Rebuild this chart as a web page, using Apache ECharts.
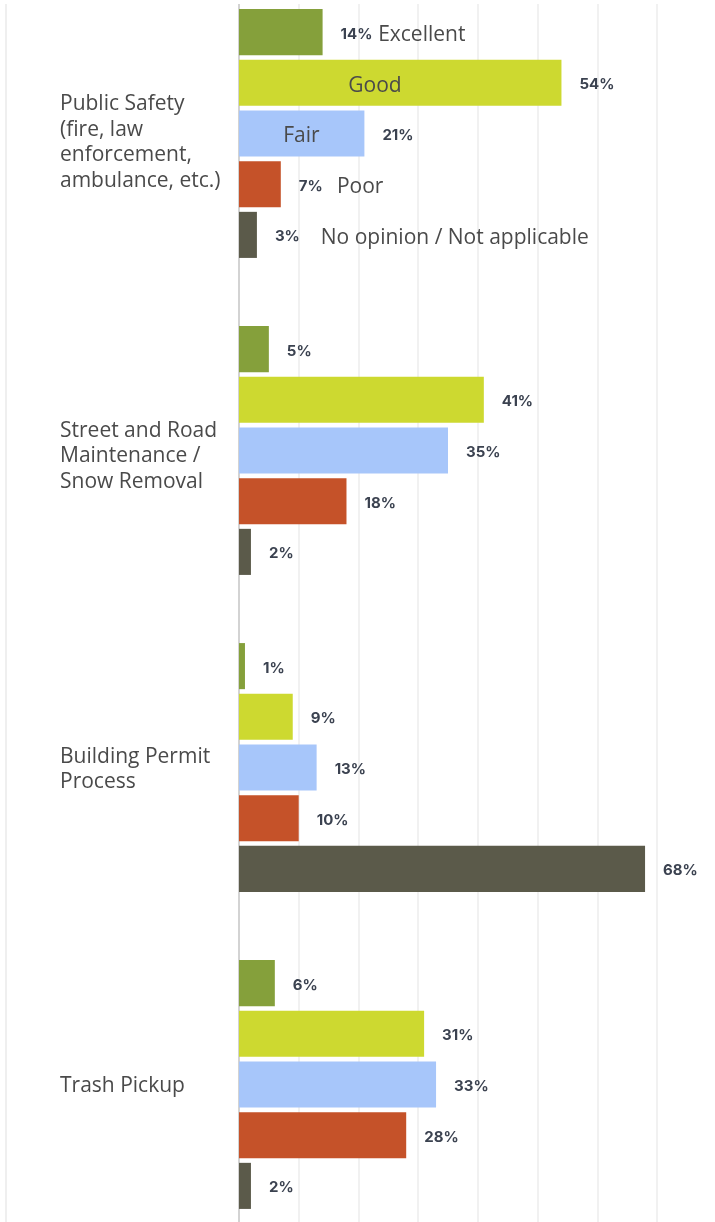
<!DOCTYPE html>
<html>
<head>
<meta charset="utf-8">
<script src="https://cdn.jsdelivr.net/npm/echarts@6/dist/echarts.min.js"></script>
<style>
html,body{margin:0;padding:0;background:#fff;overflow:hidden;width:715px;height:1222px;}
#chart{width:715px;height:1268px;position:absolute;left:0;top:-25px;}
</style>
</head>
<body>
<div id="chart"></div>
<script>
const categories = [
  'Public Safety\n(fire, law\nenforcement,\nambulance, etc.)',
  'Street and Road\nMaintenance /\nSnow Removal',
  'Building Permit\nProcess',
  'Trash Pickup'
];
const seriesNames = ['Excellent', 'Good', 'Fair', 'Poor', 'No opinion / Not applicable'];
const excellent = [14, 5, 1, 6];
const good = [54, 41, 9, 31];
const fair = [21, 35, 13, 33];
const poor = [7, 18, 10, 28];
const noOpinion = [3, 2, 68, 2];
const axisTicks = [0, 10, 20, 30, 40, 50, 60, 70];

const colors = ['#85a03b', '#cdd930', '#a7c6fa', '#c55229', '#5b5a4a'];
const values = [excellent, good, fair, poor, noOpinion];
// x position (axis value) where each series name annotation starts, on the first category
const nameAnchor = [23.3, 18.3, 7.4, 16.4, 13.7];
// extra top spacing (px) for each category label to nudge it down
const labelNudge = [18, 12, 4, 4];

const series = seriesNames.map((name, i) => ({
  name: name,
  type: 'bar',
  barGap: '10%',
  barCategoryGap: '21.5%',
  itemStyle: { color: colors[i] },
  label: {
    show: true,
    position: 'right',
    distance: 18,
    offset: [0, 2],
    formatter: '{c}%',
    fontFamily: 'Inter',
    fontWeight: 700,
    fontSize: 15,
    color: '#3b4250'
  },
  data: values[i],
  markPoint: {
    symbol: 'circle',
    symbolSize: 0,
    silent: true,
    label: {
      show: true,
      position: 'right',
      distance: 0,
      offset: [0, 3],
      formatter: name,
      fontFamily: 'Open Sans',
      fontSize: 21,
      color: '#4a4a4a'
    },
    data: [{ coord: [nameAnchor[i], categories[0]] }]
  }
}));

const rich = {};
labelNudge.forEach((h, i) => { rich['s' + i] = { fontSize: 2, lineHeight: h }; });

const chart = echarts.init(document.getElementById('chart'), null, { renderer: 'canvas' });
chart.setOption({
  animation: false,
  backgroundColor: '#ffffff',
  grid: { left: 239, right: 58, top: 0, bottom: 0, containLabel: false },
  xAxis: {
    type: 'value',
    min: axisTicks[0],
    max: axisTicks[axisTicks.length - 1],
    interval: axisTicks[1] - axisTicks[0],
    axisLabel: { show: false },
    axisLine: { show: false },
    axisTick: { show: false },
    splitLine: { show: true, lineStyle: { color: '#ececec', width: 1.5 } }
  },
  yAxis: {
    type: 'category',
    inverse: true,
    data: categories,
    axisTick: { show: false },
    axisLine: { show: true, lineStyle: { color: '#c8c8c8', width: 1.5 } },
    axisLabel: {
      align: 'left',
      margin: 179,
      fontFamily: 'Open Sans',
      fontSize: 21,
      lineHeight: 25.5,
      color: '#4a4a4a',
      formatter: (v, i) => '{s' + i + '| }\n' + v,
      rich: rich
    }
  },
  graphic: [
    { type: 'rect', z: 100, shape: { x: 0, y: 0, width: 715, height: 29 }, style: { fill: '#ffffff' } },
    { type: 'rect', z: 0, shape: { x: 5, y: 29, width: 2, height: 1240 }, style: { fill: '#efefef' } }
  ],
  series: series
});
</script>
</body>
</html>
